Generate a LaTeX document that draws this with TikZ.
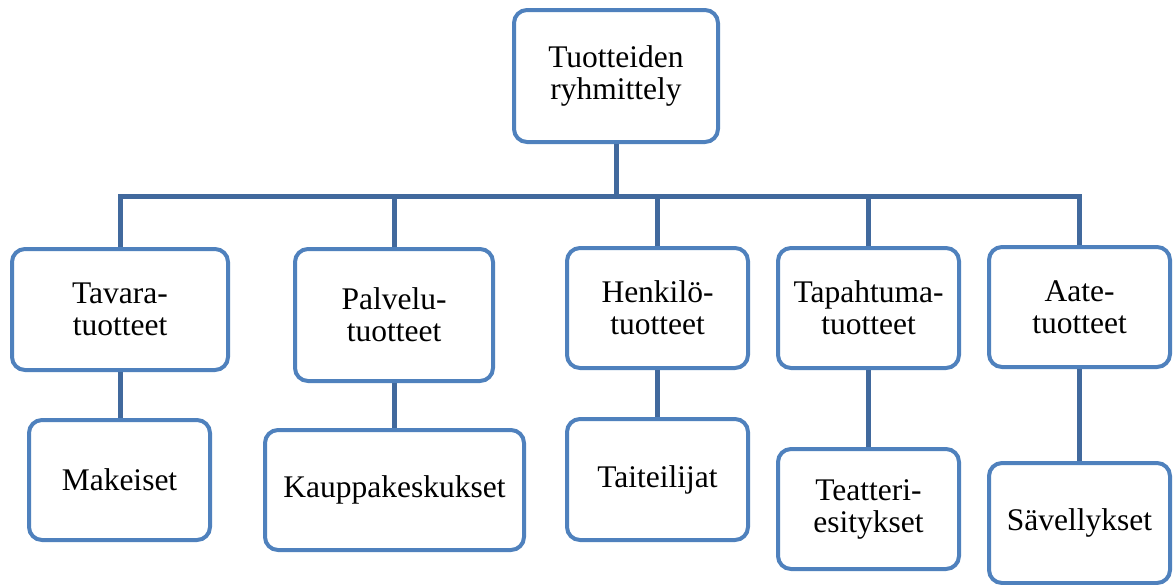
\documentclass[tikz,border=0pt]{standalone}
\usepackage{fontspec}
\setmainfont{Liberation Serif}
\definecolor{boxblue}{RGB}{79,129,189}
\definecolor{linkblue}{RGB}{65,105,157}
\tikzset{
  orgbox/.style={draw=boxblue, line width=4pt, rounded corners=13pt, fill=white,
    inner sep=0pt, align=center, minimum width=#1, minimum height=120pt,
    font=\fontsize{31.5}{32}\selectfont},
  link/.style={draw=linkblue, line width=5pt}
}
\begin{document}
\begin{tikzpicture}[x=1pt,y=-1pt]
\useasboundingbox[fill=white] (0,0) rectangle (1176,584);
\node[orgbox=204pt, minimum height=132pt] (root) at (616,76) {Tuotteiden\\ryhmittely};
\node[orgbox=216pt, minimum height=121pt] (tav) at (120,309.5) {Tavara-\\tuotteet};
\node[orgbox=198pt, minimum height=132pt] (pal) at (394,315) {Palvelu-\\tuotteet};
\node[orgbox=181pt] (hen) at (657.5,308) {Henkilö-\\tuotteet};
\node[orgbox=181pt] (tap) at (868.5,308) {Tapahtuma-\\tuotteet};
\node[orgbox=181pt] (aat) at (1079.5,307) {Aate-\\tuotteet};
\node[orgbox=181pt] (mak) at (119.5,480) {Makeiset};
\node[orgbox=259pt] (kau) at (394.5,490) {Kauppakeskukset};
\node[orgbox=181pt, minimum height=121pt] (tai) at (657.5,479.5) {Taiteilijat};
\node[orgbox=181pt] (tea) at (868.5,509) {Teatteri-\\esitykset};
\node[orgbox=181pt] (sav) at (1079.5,523) {Sävellykset};
\coordinate (bus) at (616,196);
\draw[link] (root.south) -- (root.south |- bus);
\draw[link] (tav.north) |- (aat.north |- bus) -- (aat.north);
\draw[link] (pal.north) -- (pal.north |- bus);
\draw[link] (hen.north) -- (hen.north |- bus);
\draw[link] (tap.north) -- (tap.north |- bus);
\draw[link] (tav.south) -- (tav.south |- mak.north);
\draw[link] (pal.south) -- (pal.south |- kau.north);
\draw[link] (hen.south) -- (hen.south |- tai.north);
\draw[link] (tap.south) -- (tap.south |- tea.north);
\draw[link] (aat.south) -- (aat.south |- sav.north);
\end{tikzpicture}
\end{document}
